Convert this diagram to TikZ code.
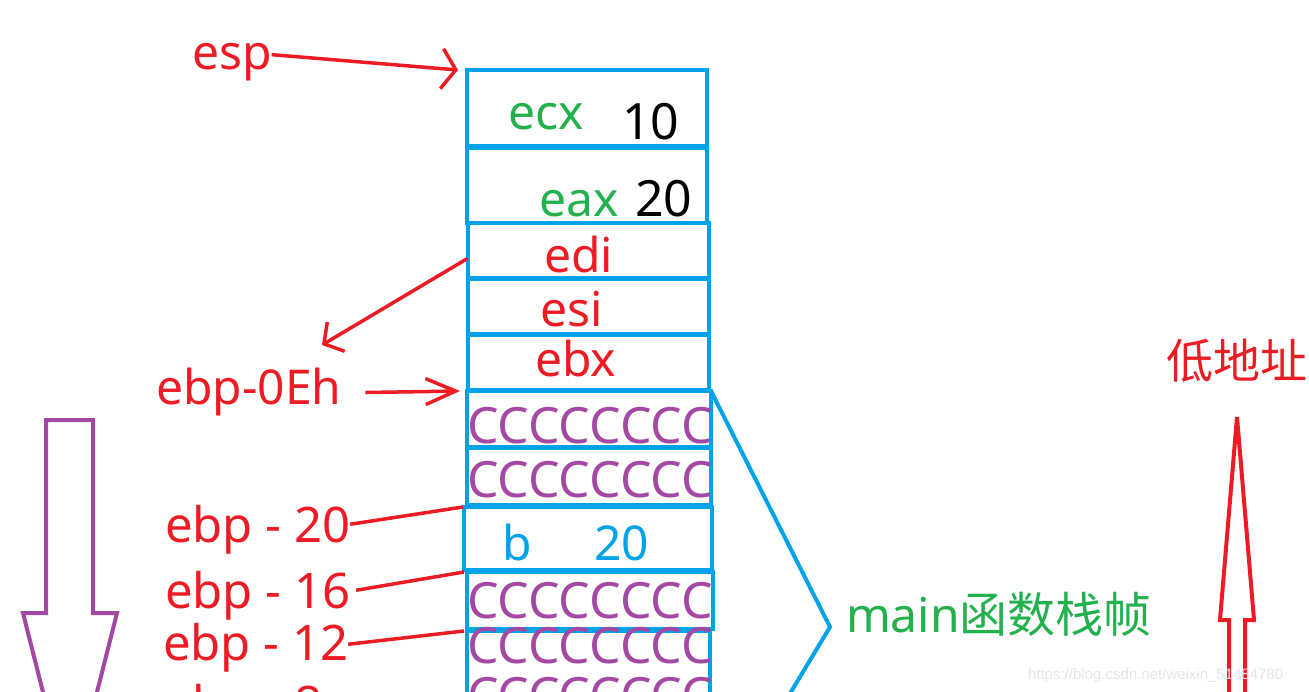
\documentclass[tikz,border=0pt]{standalone}
\usepackage{fontspec}
\setmainfont{Noto Sans}
\newfontfamily\cjk{Noto Sans CJK SC}
\newfontfamily\wmfont{Liberation Sans}
\usepackage{tikz}
\usetikzlibrary{arrows.meta,positioning}
\definecolor{pblue}{HTML}{00A2E8}
\definecolor{pred}{HTML}{ED1C24}
\definecolor{pgreen}{HTML}{22B14C}
\definecolor{ppurple}{HTML}{A349A4}
\newcommand{\fsz}[1]{\fontsize{#1}{#1}\selectfont}

\begin{document}
\begin{tikzpicture}[x=1pt,y=-1pt,
  every node/.style={inner sep=0pt, outer sep=0pt, font=\fsz{48}, anchor=base west},
  cell/.style={draw=pblue, line width=4pt, anchor=center},
  reg/.style={text=pred},
  off/.style={text=pred, font=\fsz{49}},
  var/.style={text=pgreen},
  num/.style={text=black, font=\fsz{50}},
  fill8/.style={text=ppurple, font=\fsz{50}},
  ptr/.style={draw=pred, line width=3.5pt},
  barb/.style={ptr, -{Straight Barb[length=14pt,width=40pt,line width=3.5pt]}},
  hollow/.style={line width=4pt, line join=miter}]
  \useasboundingbox (0,0) rectangle (1309,692);
  \clip (0,0) rectangle (1309,692);
  % stack cells
  \node[cell, minimum width=240, minimum height=76] (r1) at (587,108) {};
  \node[cell, minimum width=240, minimum height=75] (r2) at (587,185.5) {};
  \node[cell, minimum width=241, minimum height=55] (r3) at (588,250.5) {};
  \node[cell, minimum width=241, minimum height=55] (r4) at (588,306.5) {};
  \node[cell, minimum width=241, minimum height=55] (r5) at (588,362.5) {};
  \node[cell, minimum width=244, minimum height=56] (r6) at (589,419) {};
  \node[cell, minimum width=244, minimum height=57] (r7) at (589,476.5) {};
  \node[cell, minimum width=248, minimum height=63] (r8) at (588,538.5) {};
  \node[cell, minimum width=246, minimum height=57] (r9) at (590,600.5) {};
  \node[cell, minimum width=243, minimum height=109] (r10) at (588.5,685.5) {};
  % cell contents
  \node[var] (ecx) at (508,130) {ecx};
  \node[num] (v10) at (622,140) {10};
  \node[var] (eax) at (539,217) {eax};
  \node[num] (v20) at (635,217) {20};
  \node[reg] (edi) at (544,273) {edi};
  \node[reg] (esi) at (540,327) {esi};
  \node[reg] (ebx) at (535,377) {ebx};
  \node[fill8] (c1) at (467,443) {CCCCCCCC};
  \node[fill8] (c2) at (467,497) {CCCCCCCC};
  \node[text=pblue] (vb) at (502,560) {b};
  \node[text=pblue] (vb20) at (594,560) {20};
  \node[fill8] (c3) at (467,618) {CCCCCCCC};
  \node[fill8] (c4) at (467,663) {CCCCCCCC};
  \node[fill8] (c5) at (467,713) {CCCCCCCC};
  % pointers
  \node[reg] (esp) at (192,70) {esp};
  \node[reg] (e0e) at (156,405) {ebp-0Eh};
  \node[off] (e20) at (165,542) {ebp - 20};
  \node[off] (e16) at (165,608) {ebp - 16};
  \node[off] (e12) at (163,660) {ebp - 12};
  \node[off] (e8) at (165,721) {ebp - 8};
  \coordinate (ediend) at (322,345);
  \draw[barb] ([yshift=8pt]esp.east) -- ([xshift=-9pt]r1.north west);
  \draw[barb, -{Straight Barb[length=14pt,width=34pt,line width=3.5pt]}]
    ([yshift=-8pt]r3.west) -- (ediend);
  \draw[barb, -{Straight Barb[length=30pt,width=26pt,line width=3.5pt]}]
    ([xshift=24pt]e0e.east) -- ([xshift=-7pt]r6.north west);
  \draw[ptr] ([yshift=5pt]e20.east) -- ([xshift=-1pt]r8.north west);
  \draw[ptr] ([xshift=6pt,yshift=5pt]e16.east) -- ([xshift=-3pt]r9.north west);
  \draw[ptr] ([yshift=3pt]e12.east) -- ([xshift=-3pt]r10.north west);
  % frame bracket
  \coordinate (brk) at (830,627);
  \coordinate (brkend) at (750,760);
  \draw[draw=pblue, line width=4pt] (r6.north east) -- (brk) -- (brkend);
  \node[text=pgreen] (frame) at (846,632) {main\cjk 函数栈帧};
  % address direction
  \draw[hollow, draw=ppurple] (46,613) -- (46,420) -- (93,420) -- (93,613)
    -- (117,613) -- (70,799) -- (23,613) -- cycle;
  \draw[hollow, draw=pred] (1229,720) -- (1229,620) -- (1220,620) -- (1237,417)
    -- (1254,620) -- (1245,620) -- (1245,720);
  \node[text=pred, font=\cjk\fsz{47}] (low) at (1166,379) {低地址};
  \node[text=black!10, font=\wmfont\fsz{15}] (wm) at (1028,679) {https://blog.csdn.net/weixin\_51484780};
\end{tikzpicture}
\end{document}
